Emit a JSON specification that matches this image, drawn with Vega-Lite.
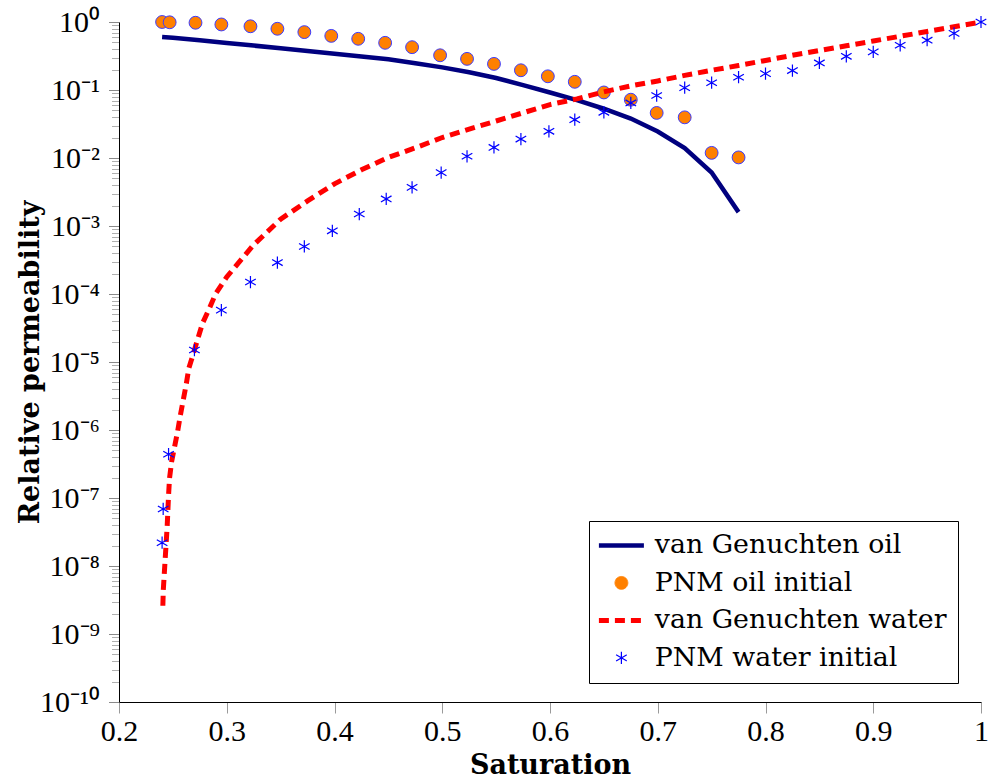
{
  "$schema": "https://vega.github.io/schema/vega-lite/v6.json",
  "width": 862,
  "height": 680,
  "autosize": {"type": "none"},
  "padding": {"left": 119, "top": 22, "right": 11, "bottom": 81},
  "background": "white",
  "config": {"view": {"stroke": null}, "font": "Liberation Serif"},
  "datasets": {
    "vg_oil": [
      {"S": 0.24, "kr": 0.6}, {"S": 0.25, "kr": 0.585}, {"S": 0.275, "kr": 0.54}, {"S": 0.3, "kr": 0.49},
      {"S": 0.325, "kr": 0.45}, {"S": 0.35, "kr": 0.41}, {"S": 0.375, "kr": 0.375}, {"S": 0.4, "kr": 0.34},
      {"S": 0.425, "kr": 0.31}, {"S": 0.45, "kr": 0.283}, {"S": 0.475, "kr": 0.248}, {"S": 0.5, "kr": 0.215},
      {"S": 0.525, "kr": 0.182}, {"S": 0.55, "kr": 0.15}, {"S": 0.575, "kr": 0.118}, {"S": 0.6, "kr": 0.092},
      {"S": 0.625, "kr": 0.071}, {"S": 0.65, "kr": 0.053}, {"S": 0.675, "kr": 0.038}, {"S": 0.7, "kr": 0.0245},
      {"S": 0.725, "kr": 0.014}, {"S": 0.75, "kr": 0.0061}, {"S": 0.775, "kr": 0.0016}
    ],
    "pnm_oil": [
      {"S": 0.24, "kr": 1.0}, {"S": 0.247, "kr": 0.99}, {"S": 0.271, "kr": 0.975}, {"S": 0.295, "kr": 0.92},
      {"S": 0.322, "kr": 0.865}, {"S": 0.347, "kr": 0.795}, {"S": 0.372, "kr": 0.71}, {"S": 0.397, "kr": 0.625},
      {"S": 0.422, "kr": 0.566}, {"S": 0.447, "kr": 0.494}, {"S": 0.472, "kr": 0.426}, {"S": 0.498, "kr": 0.324},
      {"S": 0.523, "kr": 0.287}, {"S": 0.548, "kr": 0.242}, {"S": 0.573, "kr": 0.195}, {"S": 0.598, "kr": 0.159},
      {"S": 0.623, "kr": 0.132}, {"S": 0.65, "kr": 0.092}, {"S": 0.675, "kr": 0.072}, {"S": 0.699, "kr": 0.046},
      {"S": 0.725, "kr": 0.0396}, {"S": 0.75, "kr": 0.0119}, {"S": 0.775, "kr": 0.0102}
    ],
    "vg_water": [
      {"S": 0.2407, "kr": 2.6e-9}, {"S": 0.2411, "kr": 4.4e-9}, {"S": 0.242, "kr": 7.6e-9}, {"S": 0.2429, "kr": 1.3e-8},
      {"S": 0.2447, "kr": 3.8e-8}, {"S": 0.246, "kr": 1.1e-7}, {"S": 0.2469, "kr": 1.95e-7}, {"S": 0.2488, "kr": 3.4e-7},
      {"S": 0.2515, "kr": 5.6e-7}, {"S": 0.2543, "kr": 9.3e-7}, {"S": 0.2568, "kr": 1.6e-6}, {"S": 0.2596, "kr": 2.75e-6},
      {"S": 0.2624, "kr": 4.7e-6}, {"S": 0.2648, "kr": 8.1e-6}, {"S": 0.27, "kr": 1.5e-5}, {"S": 0.2775, "kr": 3.7e-5},
      {"S": 0.284, "kr": 6.2e-5}, {"S": 0.2896, "kr": 1.0e-4}, {"S": 0.3, "kr": 1.78e-4}, {"S": 0.325, "kr": 5.3e-4},
      {"S": 0.35, "kr": 1.26e-3}, {"S": 0.375, "kr": 2.34e-3}, {"S": 0.4, "kr": 4.17e-3}, {"S": 0.425, "kr": 6.7e-3},
      {"S": 0.45, "kr": 1.02e-2}, {"S": 0.475, "kr": 1.41e-2}, {"S": 0.5, "kr": 2.0e-2}, {"S": 0.525, "kr": 2.66e-2},
      {"S": 0.55, "kr": 3.5e-2}, {"S": 0.575, "kr": 4.62e-2}, {"S": 0.6, "kr": 6.1e-2}, {"S": 0.625, "kr": 7.4e-2},
      {"S": 0.65, "kr": 9.4e-2}, {"S": 0.675, "kr": 0.115}, {"S": 0.7, "kr": 0.136}, {"S": 0.725, "kr": 0.164},
      {"S": 0.75, "kr": 0.195}, {"S": 0.775, "kr": 0.229}, {"S": 0.8, "kr": 0.272}, {"S": 0.825, "kr": 0.324},
      {"S": 0.85, "kr": 0.38}, {"S": 0.875, "kr": 0.447}, {"S": 0.9, "kr": 0.525}, {"S": 0.925, "kr": 0.617},
      {"S": 0.95, "kr": 0.724}, {"S": 0.975, "kr": 0.851}, {"S": 1.0, "kr": 1.0}
    ],
    "pnm_water": [
      {"S": 0.24, "kr": 2.2e-8}, {"S": 0.241, "kr": 6.9e-8}, {"S": 0.246, "kr": 4.4e-7}, {"S": 0.27, "kr": 1.5e-5},
      {"S": 0.295, "kr": 5.8e-5}, {"S": 0.322, "kr": 1.5e-4}, {"S": 0.347, "kr": 2.9e-4}, {"S": 0.372, "kr": 5.0e-4},
      {"S": 0.398, "kr": 8.5e-4}, {"S": 0.423, "kr": 1.5e-3}, {"S": 0.448, "kr": 2.5e-3}, {"S": 0.472, "kr": 3.7e-3},
      {"S": 0.499, "kr": 6.1e-3}, {"S": 0.523, "kr": 1.06e-2}, {"S": 0.548, "kr": 1.43e-2}, {"S": 0.573, "kr": 1.9e-2},
      {"S": 0.599, "kr": 2.47e-2}, {"S": 0.623, "kr": 3.66e-2}, {"S": 0.65, "kr": 4.7e-2}, {"S": 0.675, "kr": 6.45e-2},
      {"S": 0.699, "kr": 8.3e-2}, {"S": 0.725, "kr": 0.108}, {"S": 0.75, "kr": 0.128}, {"S": 0.775, "kr": 0.154},
      {"S": 0.8, "kr": 0.174}, {"S": 0.825, "kr": 0.193}, {"S": 0.85, "kr": 0.25}, {"S": 0.875, "kr": 0.313},
      {"S": 0.9, "kr": 0.364}, {"S": 0.925, "kr": 0.455}, {"S": 0.95, "kr": 0.54}, {"S": 0.975, "kr": 0.68},
      {"S": 1.0, "kr": 1.0}
    ]
  },
  "encoding": {
    "x": {
      "field": "S",
      "type": "quantitative",
      "title": "Saturation",
      "scale": {"domain": [0.2, 1], "nice": false, "zero": false},
      "axis": {
        "values": [0.2, 0.3, 0.4, 0.5, 0.6, 0.7, 0.8, 0.9, 1],
        "labelExpr": "datum.value == 1 ? '1' : format(datum.value, '.1f')",
        "grid": false,
        "tickSize": 11,
        "tickColor": "#9a9a9a",
        "domainColor": "#000000",
        "labelFont": "Liberation Serif",
        "labelFontSize": 30,
        "labelColor": "#000000",
        "labelPadding": 3,
        "labelFlush": false,
        "labelOverlap": false,
        "titleFont": "DejaVu Serif",
        "titleFontWeight": "bold",
        "titleFontSize": 27,
        "titleColor": "#000000",
        "titlePadding": 6
      }
    },
    "y": {
      "field": "kr",
      "type": "quantitative",
      "title": "Relative permeability",
      "scale": {"type": "log", "domain": [1e-10, 1], "nice": false},
      "axis": {
        "values": [
          1e-10, 2e-10, 3e-10, 4e-10, 5e-10, 6e-10, 7e-10, 8e-10, 9e-10,
          1e-9, 2e-9, 3e-9, 4e-9, 5e-9, 6e-9, 7e-9, 8e-9, 9e-9,
          1e-8, 2e-8, 3e-8, 4e-8, 5e-8, 6e-8, 7e-8, 8e-8, 9e-8,
          1e-7, 2e-7, 3e-7, 4e-7, 5e-7, 6e-7, 7e-7, 8e-7, 9e-7,
          1e-6, 2e-6, 3e-6, 4e-6, 5e-6, 6e-6, 7e-6, 8e-6, 9e-6,
          1e-5, 2e-5, 3e-5, 4e-5, 5e-5, 6e-5, 7e-5, 8e-5, 9e-5,
          1e-4, 2e-4, 3e-4, 4e-4, 5e-4, 6e-4, 7e-4, 8e-4, 9e-4,
          1e-3, 2e-3, 3e-3, 4e-3, 5e-3, 6e-3, 7e-3, 8e-3, 9e-3,
          1e-2, 2e-2, 3e-2, 4e-2, 5e-2, 6e-2, 7e-2, 8e-2, 9e-2,
          1e-1, 2e-1, 3e-1, 4e-1, 5e-1, 6e-1, 7e-1, 8e-1, 9e-1,
          1
        ],
        "labelExpr": "abs(log(datum.value) / LN10 - round(log(datum.value) / LN10)) < 0.001 ? ['10⁰', '10⁻¹', '10⁻²', '10⁻³', '10⁻⁴', '10⁻⁵', '10⁻⁶', '10⁻⁷', '10⁻⁸', '10⁻⁹', '10⁻¹⁰'][round(-log(datum.value) / LN10)] : ''",
        "grid": false,
        "tickSize": {"condition": {"test": "abs(log(datum.value) / LN10 - round(log(datum.value) / LN10)) < 0.001", "value": 10.5}, "value": 7.5},
        "tickColor": {"condition": {"test": "abs(log(datum.value) / LN10 - round(log(datum.value) / LN10)) < 0.001", "value": "#8a8a8a"}, "value": "#b0b0b0"},
        "domainColor": "#000000",
        "labelFont": "Liberation Serif",
        "labelFontSize": 30,
        "labelColor": "#000000",
        "labelPadding": 9,
        "labelFlush": false,
        "labelOverlap": false,
        "labelBound": false,
        "titleFont": "DejaVu Serif",
        "titleFontWeight": "bold",
        "titleFontSize": 27,
        "titleColor": "#000000",
        "titleBaseline": "bottom",
        "titleX": -75
      }
    }
  },
  "layer": [
    {
      "data": {"name": "vg_oil"},
      "mark": {"type": "line", "strokeWidth": 4.5, "strokeCap": "butt"},
      "encoding": {
        "color": {
          "datum": "van Genuchten oil",
          "scale": {
            "domain": ["van Genuchten oil", "PNM oil initial", "van Genuchten water", "PNM water initial"],
            "range": ["#00007f", "#ff8000", "#ff0000", "#0000ff"]
          },
          "legend": {
            "orient": "none",
            "legendX": 470,
            "legendY": 499,
            "title": null,
            "fillColor": "white",
            "strokeColor": "black",
            "padding": 11,
            "cornerRadius": 0,
            "labelFont": "DejaVu Serif",
            "labelFontSize": 26.8,
            "labelColor": "black",
            "labelOffset": 20,
            "labelLimit": 400,
            "rowPadding": 9.5,
            "symbolSize": 2025,
            "symbolOffset": 8,
            "encode": {
              "symbols": {
                "update": {
                  "shape": {"signal": "datum.value === 'PNM oil initial' ? 'circle' : datum.value === 'PNM water initial' ? 'M0,-1L0,1M-0.866,-0.5L0.866,0.5M-0.866,0.5L0.866,-0.5' : 'stroke'"},
                  "size": {"signal": "datum.value === 'PNM oil initial' ? 165 : datum.value === 'PNM water initial' ? 150 : 2025"},
                  "fill": {"signal": "datum.value === 'PNM oil initial' ? '#ff8000' : 'transparent'"},
                  "stroke": {"signal": "datum.value === 'van Genuchten oil' ? '#00007f' : datum.value === 'van Genuchten water' ? '#ff0000' : datum.value === 'PNM oil initial' ? '#3c3cff' : '#0000ff'"},
                  "strokeWidth": {"signal": "datum.value === 'van Genuchten oil' ? 4.5 : datum.value === 'van Genuchten water' ? 5 : datum.value === 'PNM oil initial' ? 1 : 1.2"},
                  "strokeDash": {"signal": "datum.value === 'van Genuchten water' ? [10, 6] : [1, 0]"},
                  "opacity": {"value": 1}
                }
              }
            }
          }
        }
      }
    },
    {
      "data": {"name": "pnm_oil"},
      "mark": {"type": "point", "shape": "circle", "filled": true, "size": 165, "stroke": "#3c3cff", "strokeWidth": 1, "opacity": 1},
      "encoding": {"color": {"datum": "PNM oil initial"}}
    },
    {
      "data": {"name": "vg_water"},
      "mark": {"type": "line", "strokeWidth": 5, "strokeDash": [10, 6], "strokeCap": "butt"},
      "encoding": {"color": {"datum": "van Genuchten water"}}
    },
    {
      "data": {"name": "pnm_water"},
      "mark": {"type": "point", "shape": "M0,-1L0,1M-0.866,-0.5L0.866,0.5M-0.866,0.5L0.866,-0.5", "filled": false, "size": 150, "strokeWidth": 1.2, "opacity": 1},
      "encoding": {"color": {"datum": "PNM water initial"}}
    }
  ]
}
